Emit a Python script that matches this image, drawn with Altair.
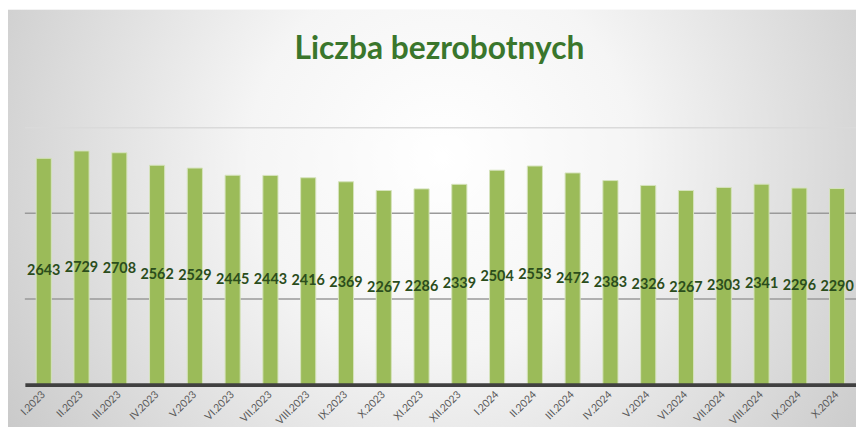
import altair as alt
import pandas as pd

months = ["I.2023", "II.2023", "III.2023", "IV.2023", "V.2023", "VI.2023",
          "VII.2023", "VIII.2023", "IX.2023", "X.2023", "XI.2023", "XII.2023",
          "I.2024", "II.2024", "III.2024", "IV.2024", "V.2024", "VI.2024",
          "VII.2024", "VIII.2024", "IX.2024", "X.2024"]
values = [2643, 2729, 2708, 2562, 2529, 2445, 2443, 2416, 2369, 2267, 2286,
          2339, 2504, 2553, 2472, 2383, 2326, 2267, 2303, 2341, 2296, 2290]
title_text = "Liczba bezrobotnych"
grid_values = [1000, 2000, 3000]

df = pd.DataFrame({"miesiac": months, "wartosc": values})
df["polowa"] = df["wartosc"] / 2
grid_df = pd.DataFrame({"g": grid_values})

W, H = 838, 259
y_scale = alt.Scale(domain=[0, 3000], nice=False)
x_scale = alt.Scale(paddingInner=0.6, paddingOuter=0.3)
x_axis = alt.Axis(labelAngle=-45, labelAlign="right", labelBaseline="middle",
                  labelPadding=8, labelFontSize=10.5, labelColor="#595959",
                  labelFont="Lato", ticks=False, domainColor="#404040",
                  domainWidth=4, grid=False, labelOverlap=False, zindex=1)

x_enc = alt.X("miesiac:N", sort=months, title=None, scale=x_scale, axis=x_axis)

bg = alt.Chart(pd.DataFrame({"a": [0]})).mark_rect(
    fill=alt.RadialGradient(
        gradient="radial",
        stops=[alt.GradientStop(offset=0, color="#ffffff"),
               alt.GradientStop(offset=0.3, color="#f5f5f5"),
               alt.GradientStop(offset=1, color="#b8b8b8")],
        x1=0.5, y1=0.42, r1=0, x2=0.5, y2=0.42, r2=0.74),
    strokeWidth=0
).encode(x=alt.value(-17), x2=alt.value(W + 20), y=alt.value(-119), y2=alt.value(H + 60))

grid = alt.Chart(grid_df).mark_rule(strokeWidth=1.5).encode(
    y=alt.Y("g:Q", scale=y_scale, axis=None),
    color=alt.condition(alt.datum.g >= 3000, alt.value("#dadada"), alt.value("#9a9a9a")),
)

bars = alt.Chart(df).mark_bar(color="#9bbb59", stroke="#d6e3bc", strokeWidth=1).encode(
    x=x_enc,
    y=alt.Y("wartosc:Q", title=None, scale=y_scale, axis=None),
)

labels = alt.Chart(df).mark_text(font="Lato", fontWeight="bold", fontSize=14.5,
                                 color="#2b4d1c", baseline="middle").encode(
    x=x_enc,
    y=alt.Y("polowa:Q", scale=y_scale, axis=None),
    text="wartosc:Q",
)

title = alt.Chart(pd.DataFrame({"t": [title_text]})).mark_text(
    font="Lato", fontWeight="bold", fontSize=32, color="#3a762c", baseline="alphabetic"
).encode(text="t:N", x=alt.value(418), y=alt.value(-69))

chart = alt.layer(bg, grid, bars, labels, title).properties(
    width=W, height=H,
    autosize=alt.AutoSizeParams(type="none"),
    padding={"left": 17, "top": 119, "right": 0, "bottom": 41},
    background="#ffffff",
).configure_view(stroke=None)

chart.save("out.html", embed_options={"renderer": "svg", "actions": False})
